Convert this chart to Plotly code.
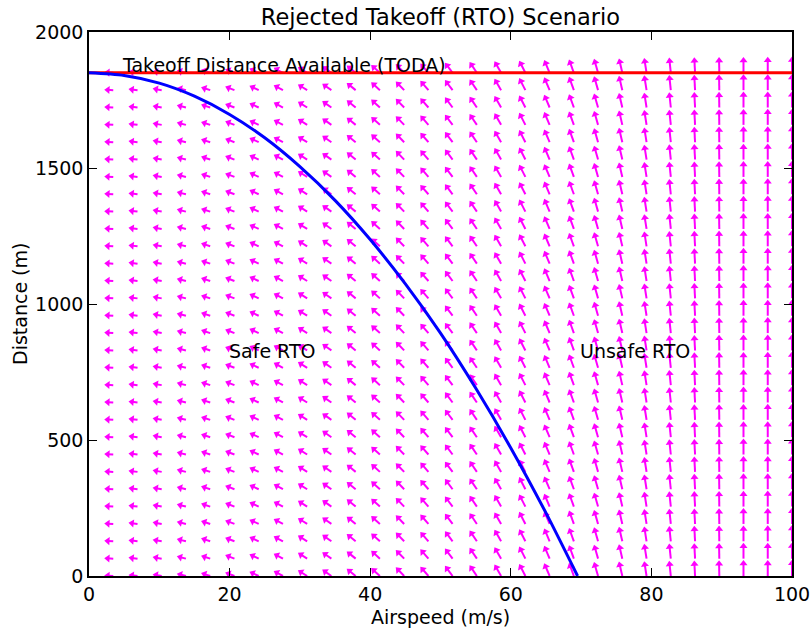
import numpy as np
import plotly.graph_objects as go

# ---- data -------------------------------------------------------------
# Grid of the vector field: airspeed columns and distance rows
speed_grid = [0.0, 3.45, 6.9, 10.34, 13.79, 17.24, 20.69, 24.14, 27.59, 31.03,
              34.48, 37.93, 41.38, 44.83, 48.28, 51.72, 55.17, 58.62, 62.07, 65.52,
              68.97, 72.41, 75.86, 79.31, 82.76, 86.21, 89.66, 93.1, 96.55, 100.0]
distance_grid = [0.0, 63.8, 127.6, 191.4, 255.2, 319.0, 382.8, 446.6, 510.3, 574.1,
                 637.9, 701.7, 765.5, 829.3, 893.1, 956.9, 1020.7, 1084.5, 1148.3, 1212.1,
                 1275.9, 1339.7, 1403.4, 1467.2, 1531.0, 1594.8, 1658.6, 1722.4, 1786.2, 1850.0]

# Field direction (degrees above the braking direction) and magnitude per airspeed column
field_angle = [0, 3, 7, 10, 14, 18, 21, 25, 28, 32,
               35, 39, 42, 46, 49, 53, 56, 60, 63, 67,
               70, 74, 77, 81, 84, 87, 89, 90, 90, 90]
field_magnitude = [0.90, 0.90, 0.91, 0.92, 0.94, 0.96, 0.99, 1.02, 1.05, 1.09,
                   1.12, 1.15, 1.18, 1.21, 1.24, 1.27, 1.30, 1.33, 1.36, 1.39,
                   1.42, 1.45, 1.48, 1.50, 1.53, 1.55, 1.57, 1.59, 1.60, 1.62]

# Stopping boundary: distance at which braking from a given airspeed ends at TODA
boundary_speed = [0, 5, 10, 15, 20, 25, 30, 35, 40, 45, 50, 55, 60, 65, 69.5]
boundary_distance = [1850, 1840, 1812, 1764, 1697, 1611, 1505, 1381, 1237, 1074,
                     893, 691, 471, 232, 0]

toda = 1850
x_range = [0, 100]
y_range = [0, 2000]

# ---- layout geometry --------------------------------------------------
W, H = 812, 630
margin = dict(l=89, r=20, t=32, b=54)
plot_w = W - margin["l"] - margin["r"]
plot_h = H - margin["t"] - margin["b"]
dx_per_px = (x_range[1] - x_range[0]) / plot_w
dy_per_px = (y_range[1] - y_range[0]) / plot_h

arrow_scale_px = 10.0   # pixels per unit of field magnitude
head_size = 7           # triangle marker size
head_r = head_size / 2.0

shaft_x, shaft_y = [], []
head_x, head_y, head_angle = [], [], []
for xi, ang, mag in zip(speed_grid, field_angle, field_magnitude):
    t = np.radians(ang)
    ux, uy = -np.cos(t), np.sin(t)          # screen-space unit direction
    length = mag * arrow_scale_px
    for yj in distance_grid:
        cx = xi + ux * (length - head_r) * dx_per_px
        cy = yj + uy * (length - head_r) * dy_per_px
        shaft_x += [xi, cx, None]
        shaft_y += [yj, cy, None]
        head_x.append(cx)
        head_y.append(cy)
        head_angle.append(ang - 90)

fig = go.Figure()

fig.add_trace(go.Scatter(
    x=shaft_x, y=shaft_y, mode="lines",
    line=dict(color="#ff00ff", width=2),
    hoverinfo="skip", showlegend=False))
fig.add_trace(go.Scatter(
    x=head_x, y=head_y, mode="markers",
    marker=dict(symbol="triangle-up", size=head_size, color="#ff00ff",
                angle=head_angle, line=dict(width=0)),
    hoverinfo="skip", showlegend=False))

# TODA line
fig.add_trace(go.Scatter(
    x=x_range, y=[toda, toda], mode="lines",
    line=dict(color="#ff0000", width=3),
    hoverinfo="skip", showlegend=False))

# Stopping boundary curve
fig.add_trace(go.Scatter(
    x=boundary_speed, y=boundary_distance, mode="lines",
    line=dict(color="#0000ff", width=3, shape="spline", smoothing=0.8),
    hoverinfo="skip", showlegend=False))

font_family = "DejaVu Sans"
txt = dict(color="black", size=19, family=font_family)

fig.add_annotation(x=5, y=toda, text="Takeoff Distance Available (TODA)",
                   xanchor="left", yanchor="bottom", showarrow=False,
                   font=txt, xshift=-4, yshift=-5)
fig.add_annotation(x=20, y=800, text="Safe RTO", xanchor="left",
                   yanchor="bottom", showarrow=False, font=txt,
                   xshift=-3, yshift=-6)
fig.add_annotation(x=70, y=800, text="Unsafe RTO", xanchor="left",
                   yanchor="bottom", showarrow=False, font=txt,
                   xshift=-3, yshift=-6)

# Axis titles
fig.add_annotation(xref="paper", yref="paper", x=0.5, y=-(617 - 576) / plot_h,
                   text="Airspeed (m/s)", showarrow=False, font=txt,
                   xanchor="center", yanchor="middle")
fig.add_annotation(xref="paper", yref="paper", x=-(89 - 20) / plot_w, y=0.5,
                   text="Distance (m)", showarrow=False, font=txt, textangle=-90,
                   xanchor="center", yanchor="middle")

axis_common = dict(
    showgrid=False, zeroline=False, showline=True, linecolor="black",
    linewidth=1.5, mirror="allticks", ticks="inside", ticklen=8, tickwidth=1,
    tickcolor="black", automargin=False,
    tickfont=dict(size=19, family=font_family, color="black"),
)

fig.update_xaxes(range=x_range, tickvals=[0, 20, 40, 60, 80, 100], **axis_common)
fig.update_yaxes(range=y_range, tickvals=[0, 500, 1000, 1500, 2000], **axis_common)

fig.update_layout(
    width=W, height=H, margin=margin,
    paper_bgcolor="white", plot_bgcolor="white",
    title=dict(text="Rejected Takeoff (RTO) Scenario", x=(89 + 792) / 2 / W,
               xanchor="center", y=1 - 17 / H, yanchor="middle",
               font=dict(size=22.5, family=font_family, color="black")),
    font=dict(family=font_family),
)

fig.write_html("out.html")
